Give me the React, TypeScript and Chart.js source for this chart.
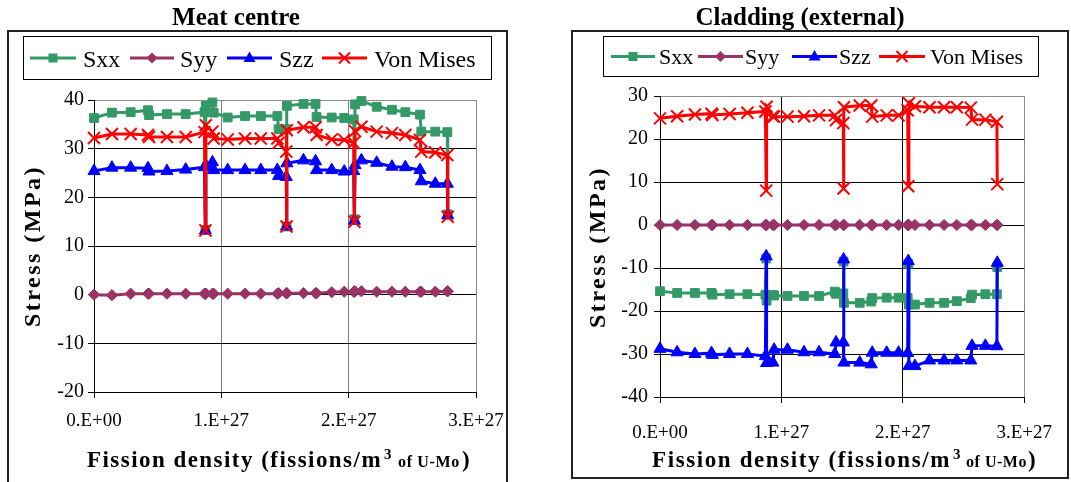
import React, { useEffect, useRef } from "react";
import { Chart, registerables } from "chart.js";

Chart.register(...registerables);

const SERIF = '"Liberation Serif", "Times New Roman", Times, serif';

// Fission density, in units of 1E+27 fissions/m^3 of U-Mo
const fissionDensity = [
  0, 0.141, 0.288, 0.424, 0.432, 0.573, 0.72, 0.868, 0.875, 0.878,
  0.93, 0.94, 1.05, 1.186, 1.31, 1.44, 1.45, 1.51, 1.512, 1.515,
  1.645, 1.74, 1.748, 1.867, 1.965, 2.04, 2.045, 2.05, 2.1, 2.22,
  2.34, 2.445, 2.56, 2.57, 2.68, 2.775, 2.778,
];
const xTickValues = [0, 1, 2, 3];
const xTickLabels = ["0.E+00", "1.E+27", "2.E+27", "3.E+27"];

const seriesNames = ["Sxx", "Syy", "Szz", "Von Mises"];

// Meat centre (MPa)
const meatSxx = [
  36.3, 37.4, 37.5, 37.9, 36.9, 37.1, 37.1, 37.5, 13.3, 38.8,
  39.5, 37.4, 36.4, 36.7, 36.7, 36.7, 34.0, 34.0, 14.0, 38.8,
  39.2, 39.2, 36.5, 36.4, 36.3, 36.0, 15.5, 39.1, 39.8, 38.6,
  38.0, 37.5, 37.0, 33.5, 33.5, 33.4, 16.5,
];
const meatSyy = [
  0, -0.1, 0.2, 0.2, 0.2, 0.2, 0.2, 0.2, 0.2, 0.2,
  0.2, 0.2, 0.2, 0.2, 0.2, 0.2, 0.3, 0.3, 0.3, 0.3,
  0.3, 0.3, 0.3, 0.5, 0.6, 0.6, 0.6, 0.7, 0.7, 0.6,
  0.6, 0.6, 0.6, 0.6, 0.6, 0.7, 0.7,
];
const meatSzz = [
  25.4, 26.1, 26.1, 26.0, 25.3, 25.4, 25.7, 26.2, 13.2, 26.6,
  27.2, 25.6, 25.6, 25.6, 25.6, 25.6, 24.4, 24.2, 14.0, 27.0,
  27.6, 27.4, 25.6, 25.6, 25.3, 25.4, 15.2, 26.6, 27.6, 27.1,
  26.3, 26.2, 25.6, 23.3, 22.8, 22.8, 16.3,
];
const meatVonMises = [
  32.2, 33.0, 33.0, 32.8, 32.4, 32.4, 32.4, 33.4, 13.2, 34.8,
  33.5, 32.1, 31.9, 32.1, 32.1, 32.1, 31.2, 29.4, 14.0, 33.8,
  34.4, 34.4, 32.8, 31.9, 31.8, 31.2, 15.0, 33.6, 34.5, 33.5,
  33.2, 32.8, 31.8, 29.4, 29.2, 28.7, 16.0,
];
const meatYTicks = [-20, -10, 0, 10, 20, 30, 40];

// Cladding (external) (MPa)
const cladSxx = [
  -15.4, -15.8, -15.8, -15.8, -16.2, -16.1, -16.1, -16.2, -7.8, -17.6,
  -16.3, -16.4, -16.5, -16.5, -16.5, -15.5, -16.0, -15.9, -8.5, -18.1,
  -18.1, -17.8, -17.0, -16.9, -16.9, -17.0, -9.0, -18.5, -18.5, -18.1,
  -18.1, -17.7, -17.0, -16.2, -16.1, -16.1, -9.8,
];
const cladSyy = [
  0, 0, 0, 0, 0, 0, 0, 0, 0, 0,
  0, 0, 0, 0, 0, 0, 0, 0, 0, 0,
  0, 0, 0, 0, 0, 0, 0, 0, 0, 0,
  0, 0, 0, 0, 0, 0, 0,
];
const cladSzz = [
  -28.8, -29.6, -30.0, -29.8, -30.2, -30.0, -30.0, -30.5, -7.3, -32.1,
  -32.0, -29.0, -29.0, -29.6, -29.6, -30.0, -27.3, -27.3, -8.0, -32.0,
  -32.0, -32.4, -29.7, -29.7, -29.7, -29.8, -8.4, -32.8, -32.8, -31.5,
  -31.5, -31.5, -31.5, -28.1, -28.1, -28.2, -8.8,
];
const cladVonMises = [
  24.8, 25.3, 25.7, 25.9, 25.6, 25.8, 26.1, 26.4, 8.0, 27.5,
  25.3, 25.2, 25.2, 25.3, 25.5, 25.5, 24.4, 23.7, 8.5, 27.4,
  27.8, 27.8, 25.2, 25.5, 25.5, 26.7, 9.0, 28.3, 27.6, 27.4,
  27.4, 27.4, 27.3, 24.5, 24.5, 24.0, 9.5,
];
const cladYTicks = [-40, -30, -20, -10, 0, 10, 20, 30];

const seriesColors = ["#339966", "#993366", "#0000FF", "#FF0000"];
const seriesMarkers = ["rect", "rectRot", "triangle", "crossRot"];
const markerRadius = [6.2, 5.6, 7, 8.5];

type PanelCfg = {
  title: string;
  titleX: number;
  box: [number, number, number, number];
  legendBox: [number, number, number, number];
  legendLineY: number;
  legendBaseline: number;
  legendFont: number;
  legendLines: [number, number][];
  legendText: number[];
  yTitleX: number;
  yTitleY: number;
  yTitleLen: number;
  xTitleBase: number;
  xTitleParts: { x1: number; w1: number; x2: number; x3: number; w3: number; x4: number };
  yAxisWidth: number;
  xAxisHeight: number;
  padTop: number;
  padRight: number;
  xGridColor: string;
  xTickPad: number;
  yTickPad: number;
  yTicks: number[];
  series: number[][];
};

function fitText(ctx: CanvasRenderingContext2D, text: string, x: number, y: number, width: number) {
  (ctx as any).letterSpacing = "0px";
  const w = ctx.measureText(text).width;
  const ls = text.length > 1 ? (width - w) / text.length : 0;
  (ctx as any).letterSpacing = ls + "px";
  ctx.fillText(text, x, y);
  (ctx as any).letterSpacing = "0px";
}

function drawMarker(ctx: CanvasRenderingContext2D, style: string, x: number, y: number, color: string) {
  ctx.save();
  ctx.fillStyle = color;
  ctx.strokeStyle = color;
  ctx.beginPath();
  if (style === "rect") {
    ctx.rect(x - 4.5, y - 4.5, 9, 9);
    ctx.fill();
  } else if (style === "rectRot") {
    ctx.moveTo(x, y - 5.5);
    ctx.lineTo(x + 5.5, y);
    ctx.lineTo(x, y + 5.5);
    ctx.lineTo(x - 5.5, y);
    ctx.closePath();
    ctx.fill();
  } else if (style === "triangle") {
    ctx.moveTo(x, y - 6.5);
    ctx.lineTo(x + 6, y + 4);
    ctx.lineTo(x - 6, y + 4);
    ctx.closePath();
    ctx.fill();
  } else {
    ctx.lineWidth = 2;
    ctx.moveTo(x - 5.5, y - 5.5);
    ctx.lineTo(x + 5.5, y + 5.5);
    ctx.moveTo(x + 5.5, y - 5.5);
    ctx.lineTo(x - 5.5, y + 5.5);
    ctx.stroke();
  }
  ctx.restore();
}

const decorPlugin = {
  id: "decor",
  afterDraw(chart: any, _args: any, opts: any) {
    const p: PanelCfg = opts.panel;
    const ctx: CanvasRenderingContext2D = chart.ctx;
    ctx.save();
    // outer box
    ctx.strokeStyle = "#222";
    ctx.lineWidth = 2;
    ctx.strokeRect(p.box[0], p.box[1], p.box[2], p.box[3]);
    // title
    ctx.fillStyle = "#000";
    ctx.textAlign = "center";
    ctx.textBaseline = "alphabetic";
    ctx.font = `bold 25px ${SERIF}`;
    ctx.fillText(p.title, p.titleX, 25);
    // legend
    ctx.lineWidth = 1;
    ctx.strokeStyle = "#000";
    ctx.strokeRect(p.legendBox[0], p.legendBox[1], p.legendBox[2], p.legendBox[3]);
    ctx.font = `${p.legendFont}px ${SERIF}`;
    ctx.textAlign = "left";
    seriesNames.forEach((name, i) => {
      const [a, b] = p.legendLines[i];
      ctx.strokeStyle = seriesColors[i];
      ctx.lineWidth = 3;
      ctx.beginPath();
      ctx.moveTo(a, p.legendLineY);
      ctx.lineTo(b, p.legendLineY);
      ctx.stroke();
      drawMarker(ctx, seriesMarkers[i], (a + b) / 2, p.legendLineY, seriesColors[i]);
      ctx.fillStyle = "#000";
      ctx.fillText(name, p.legendText[i], p.legendBaseline);
    });
    // y title
    ctx.save();
    ctx.translate(p.yTitleX, p.yTitleY);
    ctx.rotate(-Math.PI / 2);
    ctx.font = `bold 24px ${SERIF}`;
    ctx.fillStyle = "#000";
    ctx.textAlign = "left";
    fitText(ctx, "Stress (MPa)", -p.yTitleLen / 2, 0, p.yTitleLen);
    ctx.restore();
    // x title
    const t = p.xTitleParts;
    ctx.fillStyle = "#000";
    ctx.textAlign = "left";
    ctx.font = `bold 23px ${SERIF}`;
    fitText(ctx, "Fission density (fissions/m", t.x1, p.xTitleBase, t.w1);
    ctx.font = `bold 15px ${SERIF}`;
    ctx.fillText("3", t.x2, p.xTitleBase - 8);
    ctx.font = `bold 16px ${SERIF}`;
    fitText(ctx, "of U-Mo", t.x3, p.xTitleBase, t.w3);
    ctx.font = `bold 23px ${SERIF}`;
    ctx.fillText(")", t.x4, p.xTitleBase);
    ctx.restore();
  },
};

function buildConfig(p: PanelCfg): any {
  const yMin = p.yTicks[0];
  const yMax = p.yTicks[p.yTicks.length - 1];
  const xMax = xTickValues[xTickValues.length - 1];
  return {
    type: "scatter",
    data: {
      datasets: seriesNames.map((name, i) => ({
        label: name,
        data: fissionDensity.map((x, j) => ({ x, y: p.series[i][j] })),
        showLine: true,
        borderColor: seriesColors[i],
        backgroundColor: seriesColors[i],
        borderWidth: 3,
        tension: 0,
        pointStyle: seriesMarkers[i],
        pointRadius: markerRadius[i],
        pointBorderWidth: i === 3 ? 2 : 1,
        pointBackgroundColor: seriesColors[i],
        pointBorderColor: seriesColors[i],
        clip: false,
        order: 4 - i,
      })),
    },
    options: {
      animation: false,
      responsive: false,
      devicePixelRatio: 1,
      events: [],
      layout: { padding: { left: 0, right: p.padRight, top: p.padTop, bottom: 0 } },
      plugins: {
        legend: { display: false },
        title: { display: false },
        tooltip: { enabled: false },
        decor: { panel: p },
      },
      scales: {
        x: {
          type: "linear",
          min: 0,
          max: xMax,
          afterBuildTicks: (s: any) => {
            s.ticks = xTickValues.map((v) => ({ value: v }));
          },
          afterFit: (s: any) => {
            s.height = p.xAxisHeight;
          },
          ticks: {
            callback: (v: number) => xTickLabels[xTickValues.indexOf(v)],
            font: { family: SERIF, size: 19 },
            color: "#000",
            padding: p.xTickPad,
            maxRotation: 0,
            autoSkip: false,
          },
          grid: {
            color: (c: any) => (c.tick && c.tick.value === xMax ? "#8c8c8c" : p.xGridColor),
            tickColor: "#000",
            tickLength: 6,
            lineWidth: 1,
          },
          border: { color: "#000", width: 1 },
        },
        y: {
          type: "linear",
          min: yMin,
          max: yMax,
          afterBuildTicks: (s: any) => {
            s.ticks = p.yTicks.map((v) => ({ value: v }));
          },
          afterFit: (s: any) => {
            s.width = p.yAxisWidth;
          },
          ticks: {
            callback: (v: number) => String(v),
            font: { family: SERIF, size: 20 },
            color: "#000",
            padding: p.yTickPad,
          },
          grid: {
            color: (c: any) => (c.tick && c.tick.value === yMax ? "#8c8c8c" : "#000"),
            tickColor: "#000",
            tickLength: 6,
            lineWidth: 1,
          },
          border: { color: "#000", width: 1 },
        },
      },
    },
    plugins: [decorPlugin],
  };
}

const meatPanel: PanelCfg = {
  title: "Meat centre",
  titleX: 236,
  box: [8, 31, 499, 470],
  legendBox: [23.5, 36.5, 468, 43],
  legendLineY: 58,
  legendBaseline: 67,
  legendFont: 24,
  legendLines: [[30, 76], [130, 174], [227, 272], [322, 367]],
  legendText: [83, 180, 279, 374],
  yTitleX: 40,
  yTitleY: 246,
  yTitleLen: 162,
  xTitleBase: 467,
  xTitleParts: { x1: 87, w1: 295, x2: 384, x3: 398, w3: 62, x4: 462 },
  yAxisWidth: 94,
  xAxisHeight: 90,
  padTop: 100,
  padRight: 59,
  xGridColor: "#808080",
  xTickPad: 12,
  yTickPad: 4,
  yTicks: meatYTicks,
  series: [meatSxx, meatSyy, meatSzz, meatVonMises],
};

const OFF = 535;
const cladPanel: PanelCfg = {
  title: "Cladding (external)",
  titleX: 800 - OFF,
  box: [572 - OFF, 31, 496, 447],
  legendBox: [603.5 - OFF, 36.5, 435, 40],
  legendLineY: 56.5,
  legendBaseline: 64,
  legendFont: 22,
  legendLines: [[611 - OFF, 655 - OFF], [698 - OFF, 743 - OFF], [792 - OFF, 837 - OFF], [879 - OFF, 925 - OFF]],
  legendText: [659 - OFF, 745 - OFF, 839 - OFF, 930 - OFF],
  yTitleX: 605 - OFF,
  yTitleY: 247,
  yTitleLen: 162,
  xTitleBase: 467,
  xTitleParts: { x1: 652 - OFF, w1: 299, x2: 953 - OFF, x3: 966 - OFF, w3: 61, x4: 1028 - OFF },
  yAxisWidth: 125,
  xAxisHeight: 85,
  padTop: 96,
  padRight: 34,
  xGridColor: "#000",
  xTickPad: 19,
  yTickPad: 6,
  yTicks: cladYTicks,
  series: [cladSxx, cladSyy, cladSzz, cladVonMises],
};

function ChartPanel({ cfg, left, width }: { cfg: PanelCfg; left: number; width: number }) {
  const ref = useRef<HTMLCanvasElement>(null);
  useEffect(() => {
    const chart = new Chart(ref.current as HTMLCanvasElement, buildConfig(cfg));
    return () => chart.destroy();
  }, [cfg]);
  return (
    <canvas
      ref={ref}
      width={width}
      height={482}
      style={{ position: "absolute", left, top: 0, width, height: 482, display: "block" }}
    />
  );
}

export default function App() {
  return (
    <div style={{ position: "absolute", left: 0, top: 0, width: 1071, height: 482, background: "#fff", overflow: "hidden" }}>
      <ChartPanel cfg={meatPanel} left={0} width={535} />
      <ChartPanel cfg={cladPanel} left={535} width={536} />
    </div>
  );
}
